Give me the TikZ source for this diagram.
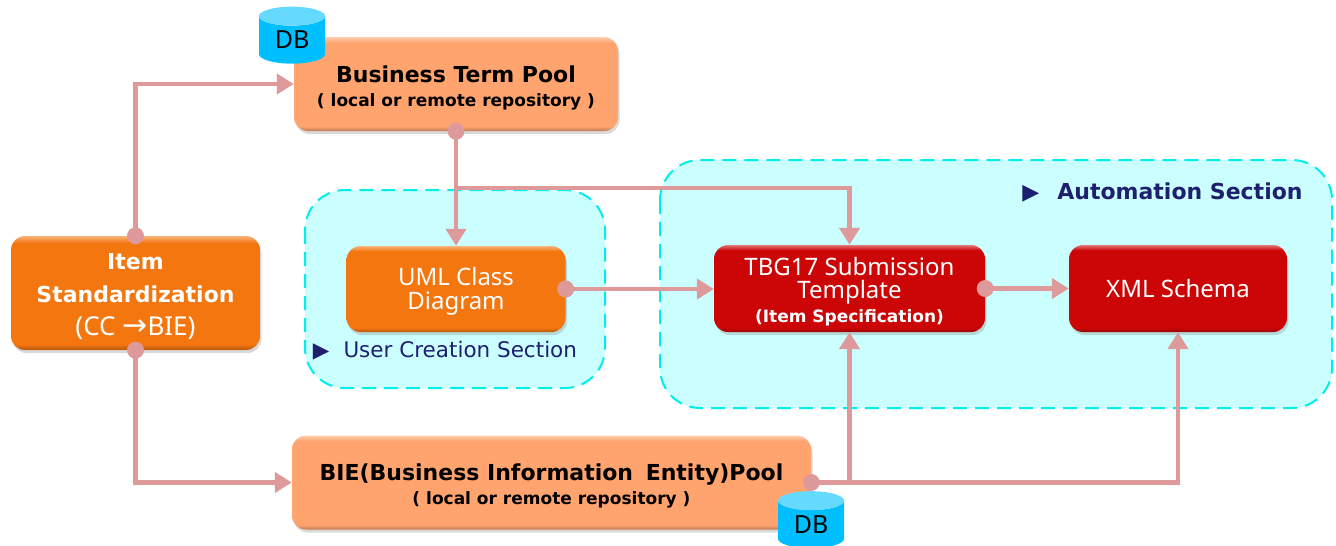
\documentclass[tikz,border=0pt]{standalone}
\usepackage{fontspec}
\setmainfont{DejaVu Sans}
\newfontfamily\plainfont{Noto Sans}
\newfontfamily\symbolfont{DejaVu Sans}
\usetikzlibrary{arrows.meta,shadows,shapes.geometric}

\definecolor{linkpink}{HTML}{DE9A9A}
\definecolor{paleorange}{HTML}{FFA46F}
\definecolor{deeporange}{HTML}{F4760F}
\definecolor{deepred}{HTML}{CC0606}
\definecolor{regioncyan}{HTML}{CBFFFF}
\definecolor{regionedge}{HTML}{00EEEE}
\definecolor{dbblue}{HTML}{00BFFF}
\definecolor{dbtop}{HTML}{66D9FF}
\definecolor{navytext}{HTML}{1F1F70}

\newcommand{\defbevel}[1]{%
  \pgfdeclareverticalshading{bevel#1}{100bp}{%
    color(0bp)=(#1!75!black); color(25bp)=(#1!75!black); color(27.5bp)=(#1);
    color(72bp)=(#1); color(75bp)=(#1!55!white); color(100bp)=(#1!55!white)}}
\defbevel{paleorange}
\defbevel{deeporange}
\defbevel{deepred}
\newcommand{\topgap}[1]{\rule{0pt}{#1}}

\begin{document}
\begin{tikzpicture}[x=1pt,y=-1pt]
      \tikzset{
        box/.style={rounded corners=14pt,minimum width=#1,align=center,shade,
          drop shadow={shadow xshift=1.5pt,shadow yshift=-3pt,opacity=0.3},inner sep=0pt},
        poolbox/.style={box=#1,shading=bevelpaleorange,minimum height=94pt,
          font=\fontsize{17}{24}\selectfont},
        userbox/.style={box=#1,shading=beveldeeporange,text=white,minimum height=86pt,
          font=\plainfont\fontsize{24}{24}\selectfont},
        autobox/.style={box=#1,shading=beveldeepred,text=white,minimum height=87pt,
          font=\plainfont\fontsize{24}{24}\selectfont},
        region/.style={draw=regionedge,fill=regioncyan,line width=2pt,rounded corners=40pt,
          dash pattern=on 14pt off 8pt},
        regionlabel/.style={text=navytext,inner sep=0pt},
        dbcyl/.style={shape=cylinder,shape border rotate=90,aspect=0.55,minimum width=66pt,
          minimum height=57pt,inner sep=0pt,cylinder uses custom fill,
          cylinder body fill=dbblue,cylinder end fill=dbtop,font=\plainfont\fontsize{25}{27}\selectfont},
        dot/.style={circle,fill=linkpink,inner sep=0pt,minimum size=17pt},
        link/.style={draw=linkpink,line width=4.5pt,-{Triangle[length=17pt,width=20pt]}}
      }
      \useasboundingbox (0,0) rectangle (1336,546);
      \clip (0,0) rectangle (1336,546);

      % section backgrounds
      \draw[region] (305,190) rectangle (605,388);
      \draw[region] (660,160) rectangle (1332,408);
      \node[regionlabel,font=\fontsize{21.5}{24}\selectfont] (userlabel) at (445,351) {▶\hspace{14pt}User Creation Section};
      \node[regionlabel,font=\bfseries\fontsize{22}{26}\selectfont] (autolabel) at (1162.5,192) {▶\hspace{18pt}Automation Section};

      % boxes
      \node[poolbox=324pt] (termpool) at (456,84) {%
        \topgap{24pt}\fontsize{22}{24}\selectfont\bfseries Business Term Pool\\
        \bfseries ( local or remote repository )};
      \node[poolbox=519pt] (biepool) at (551.5,482.5) {%
        \topgap{24pt}\fontsize{22}{24}\selectfont\bfseries BIE(Business Information\hspace{5pt} Entity)Pool\\
        \bfseries ( local or remote repository )};
      \node[userbox=249pt,minimum height=114pt,font=\plainfont\fontsize{26}{33}\selectfont] (item) at (135.5,293) {%
        \topgap{24pt}\normalfont\fontsize{22}{33}\selectfont\bfseries Item\\
        \normalfont\fontsize{22}{33}\selectfont\bfseries Standardization\\
        (CC {\symbolfont\fontsize{30}{33}\selectfont →}BIE)};
      \node[userbox=219pt] (uml) at (456,289) {\topgap{22pt}UML Class\\Diagram};
      \node[autobox=271pt,font=\plainfont\fontsize{24}{23.5}\selectfont] (tbg) at (849.5,288.5) {%
        \topgap{24pt}TBG17 Submission\\
        Template\\
        \normalfont\fontsize{17}{23}\selectfont\bfseries (Item Specification)};
      \node[autobox=218pt] (xml) at (1178,288.5) {XML Schema};

      % repositories
      \node[dbcyl] (termdb) at (292,40) {DB};
      \node[dbcyl] (biedb) at (811,524.5) {DB};

      % connection points
      \node[dot] (itemtop) at (item.north) {};
      \node[dot] (itembottom) at (item.south) {};
      \node[dot] (termout) at (termpool.south) {};
      \node[dot] (umlout) at (uml.east) {};
      \node[dot] (tbgout) at (tbg.east) {};
      \node[dot] (bieout) at (biepool.east) {};
      \coordinate (split) at (termout |- 0,188);
      \coordinate (biesplit) at (tbg.south |- bieout);

      \draw[link] (itemtop.center) |- (termpool.west);
      \draw[link] (itembottom.center) |- (biepool.west);
      \draw[link] (termout.center) -- (uml.north);
      \draw[link] (split) -| (tbg.north);
      \draw[link] (umlout.center) -- (umlout.center -| tbg.west);
      \draw[link] (tbgout.center) -- (tbgout.center -| xml.west);
      \draw[link] (bieout.center) -| (xml.south);
      \draw[link] (biesplit) -- (tbg.south);
    \end{tikzpicture}
\end{document}
